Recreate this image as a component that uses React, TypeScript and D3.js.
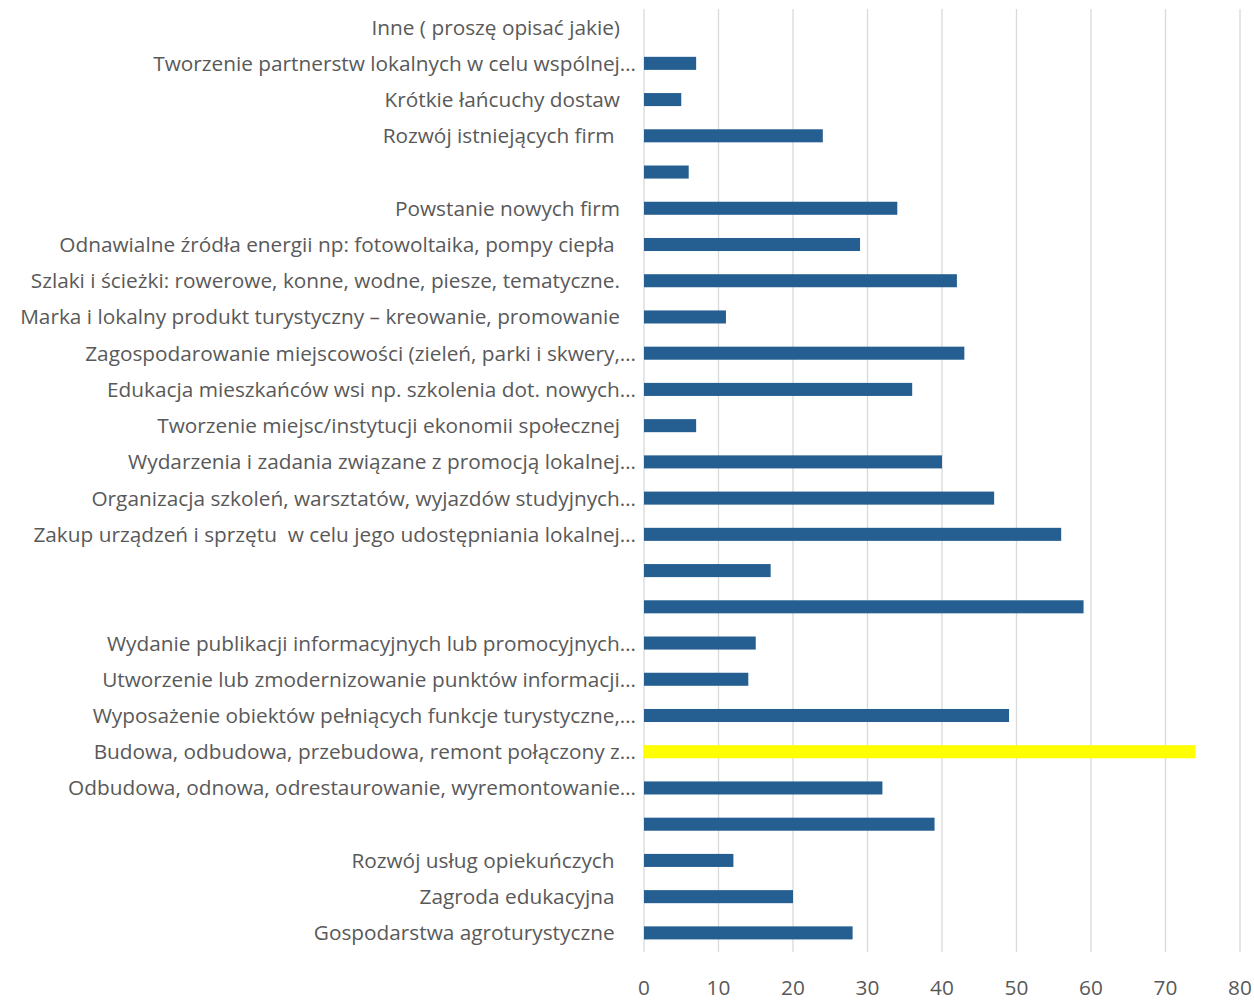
import React from "react";
import * as d3 from "d3";

const categories: string[] = [
  "Inne ( proszę opisać jakie)",
  "Tworzenie partnerstw lokalnych w celu wspólnej…",
  "Krótkie łańcuchy dostaw",
  "Rozwój istniejących firm ",
  "",
  "Powstanie nowych firm",
  "Odnawialne źródła energii np: fotowoltaika, pompy ciepła ",
  "Szlaki i ścieżki: rowerowe, konne, wodne, piesze, tematyczne.",
  "Marka i lokalny produkt turystyczny – kreowanie, promowanie",
  "Zagospodarowanie miejscowości (zieleń, parki i skwery,…",
  "Edukacja mieszkańców wsi np. szkolenia dot. nowych…",
  "Tworzenie miejsc/instytucji ekonomii społecznej",
  "Wydarzenia i zadania związane z promocją lokalnej…",
  "Organizacja szkoleń, warsztatów, wyjazdów studyjnych…",
  "Zakup urządzeń i sprzętu  w celu jego udostępniania lokalnej…",
  " ",
  "  ",
  "Wydanie publikacji informacyjnych lub promocyjnych…",
  "Utworzenie lub zmodernizowanie punktów informacji…",
  "Wyposażenie obiektów pełniących funkcje turystyczne,…",
  "Budowa, odbudowa, przebudowa, remont połączony z…",
  "Odbudowa, odnowa, odrestaurowanie, wyremontowanie…",
  "   ",
  "Rozwój usług opiekuńczych ",
  "Zagroda edukacyjna ",
  "Gospodarstwa agroturystyczne ",
];

const values: number[] = [
  0, 7, 5, 24, 6, 34, 29, 42, 11, 43, 36, 7, 40, 47, 56, 17, 59, 15, 14, 49,
  74, 32, 39, 12, 20, 28,
];

const highlighted: string[] = ["Budowa, odbudowa, przebudowa, remont połączony z…"];

const xTicks: number[] = [0, 10, 20, 30, 40, 50, 60, 70, 80];

const W = 1254;
const H = 1001;
const M = { left: 644, right: 14, top: 9, bottom: 50 };
const FONT = "'Open Sans', sans-serif";
const FS = 20.8;
const TEXT = "#595959";
const BAR = "#255E91";
const HIGHLIGHT = "#FFFF00";
const GRID = "#D9D9D9";

export default function App() {
  const x = d3.scaleLinear().domain([0, 80]).range([M.left, W - M.right]);
  const y = d3
    .scaleBand<string>()
    .domain(categories)
    .range([M.top, H - M.bottom])
    .paddingInner(0.64)
    .paddingOuter(0.32);

  return (
    <div style={{ position: "absolute", left: 0, top: 0 }}>
      <svg width={W} height={H} style={{ display: "block", background: "#fff" }}>
        {xTicks.map((t) => (
          <line
            key={"g" + t}
            x1={x(t)}
            x2={x(t)}
            y1={M.top}
            y2={H - M.bottom + 1}
            stroke={GRID}
            strokeWidth={1.3}
          />
        ))}
        {categories.map((c, i) => (
          <rect
            key={"b" + i}
            x={x(0)}
            y={y(c)!}
            width={x(values[i]) - x(0)}
            height={y.bandwidth()}
            fill={highlighted.includes(c) ? HIGHLIGHT : BAR}
          />
        ))}
        {categories.map((c, i) => {
          const ell = c.endsWith("…");
          return (
            <text
              key={"l" + i}
              x={x(0) - (ell ? 8 : 24)}
              y={y(c)! + y.bandwidth() / 2}
              dy="0.36em"
              textAnchor="end"
              fontFamily={FONT}
              fontSize={FS}
              fill={TEXT}
              style={{ whiteSpace: "pre" }}
            >
              {c}
            </text>
          );
        })}
        {xTicks.map((t) => (
          <text
            key={"t" + t}
            x={x(t)}
            y={H - 6}
            textAnchor="middle"
            fontFamily={FONT}
            fontSize={FS}
            fill={TEXT}
          >
            {t}
          </text>
        ))}
      </svg>
    </div>
  );
}
